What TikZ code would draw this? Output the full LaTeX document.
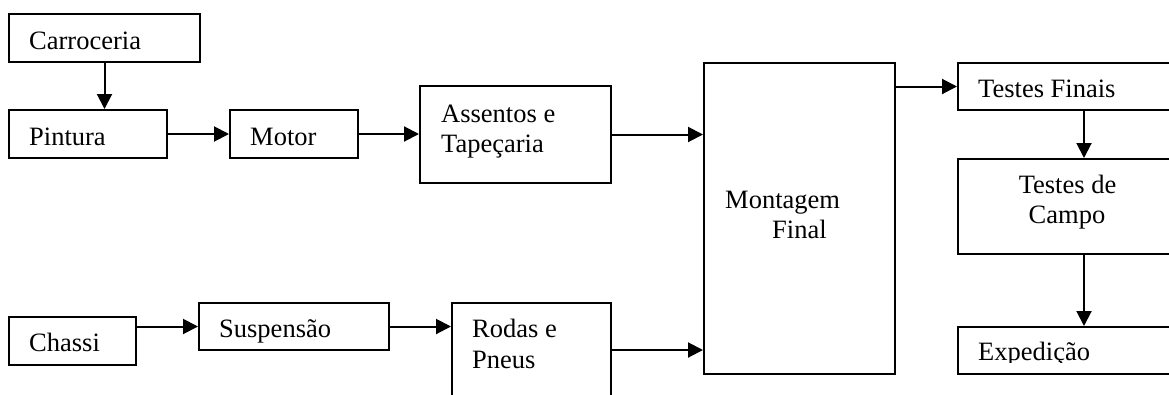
\documentclass[tikz,border=0pt]{standalone}
\usepackage{fontspec}
\setmainfont{Liberation Serif}
\usetikzlibrary{arrows.meta}
\begin{document}
\begin{tikzpicture}[x=1pt,y=-1pt,
  box/.style={draw=black,line width=2pt,inner sep=0pt,anchor=north west},
  txt/.style={anchor=base west,inner sep=0pt,font=\fontsize{26.5}{30.5}\selectfont},
  ctxt/.style={anchor=base,inner sep=0pt,align=center,font=\fontsize{26.5}{30.5}\selectfont},
  arr/.style={line width=2pt,-{Triangle[length=15pt,width=15pt]}}]
\clip (0,0) rectangle (1169,394);
\fill[white] (0,0) rectangle (1169,394);
% boxes
\node[box,minimum width=191pt,minimum height=48pt] (carroceria) at (8,13) {};
\node[box,minimum width=158pt,minimum height=48pt] (pintura) at (8,109) {};
\node[box,minimum width=128pt,minimum height=48pt] (motor) at (229,109) {};
\node[box,minimum width=191pt,minimum height=97pt] (assentos) at (419,85) {};
\node[box,minimum width=127pt,minimum height=48pt] (chassi) at (8,316) {};
\node[box,minimum width=190pt,minimum height=47pt] (suspensao) at (198,302) {};
\node[box,minimum width=159pt,minimum height=94pt] (rodas) at (451,302) {};
\node[box,minimum width=191pt,minimum height=311pt] (montagem) at (703,62) {};
\node[box,minimum width=252pt,minimum height=47pt] (testesfinais) at (957,62) {};
\node[box,minimum width=252pt,minimum height=95pt] (testescampo) at (957,158) {};
\node[box,minimum width=252pt,minimum height=47pt] (expedicao) at (957,326) {};
% texts
\node[txt] (t-carroceria) at (29,49) {Carroceria};
\node[txt] (t-pintura) at (29,145) {Pintura};
\node[txt] (t-motor) at (250,145) {Motor};
\node[txt] (t-assentos1) at (441,122) {Assentos e};
\node[txt] (t-assentos2) at (441,152.5) {Tapeçaria};
\node[txt] (t-chassi) at (29,351) {Chassi};
\node[txt] (t-suspensao) at (219,337) {Suspensão};
\node[txt] (t-rodas1) at (472,337) {Rodas e};
\node[txt] (t-rodas2) at (472,368) {Pneus};
\node[txt] (t-montagem1) at (725,208) {Montagem};
\node[txt] (t-montagem2) at (772,238.5) {Final};
\node[txt] (t-testesfinais) at (978,97) {Testes Finais};
\node[ctxt] (t-testescampo1) at (1067.5,193) {Testes de};
\node[ctxt] (t-testescampo2) at (1067,223) {Campo};
\begin{scope}
\clip (957,326) rectangle (1209,362);
\node[txt] (t-expedicao) at (978,360) {Expedição};
\end{scope}
% connectors
\draw[arr] (carroceria.south) -- (carroceria.south |- pintura.north);
\draw[arr] (pintura.east) -- (motor.west);
\draw[arr] (motor.east) -- (motor.east -| assentos.west);
\draw[arr] (assentos.east) -- (assentos.east -| montagem.west);
\draw[arr] (suspensao.west -| chassi.east) -- (suspensao.west);
\draw[arr] (suspensao.east) -- (suspensao.east -| rodas.west);
\draw[arr] (rodas.east) -- (rodas.east -| montagem.west);
\draw[arr] (testesfinais.west -| montagem.east) -- (testesfinais.west);
\draw[arr] (testesfinais.south) -- (testescampo.north);
\draw[arr] (testescampo.south) -- (expedicao.north);
\end{tikzpicture}
\end{document}
